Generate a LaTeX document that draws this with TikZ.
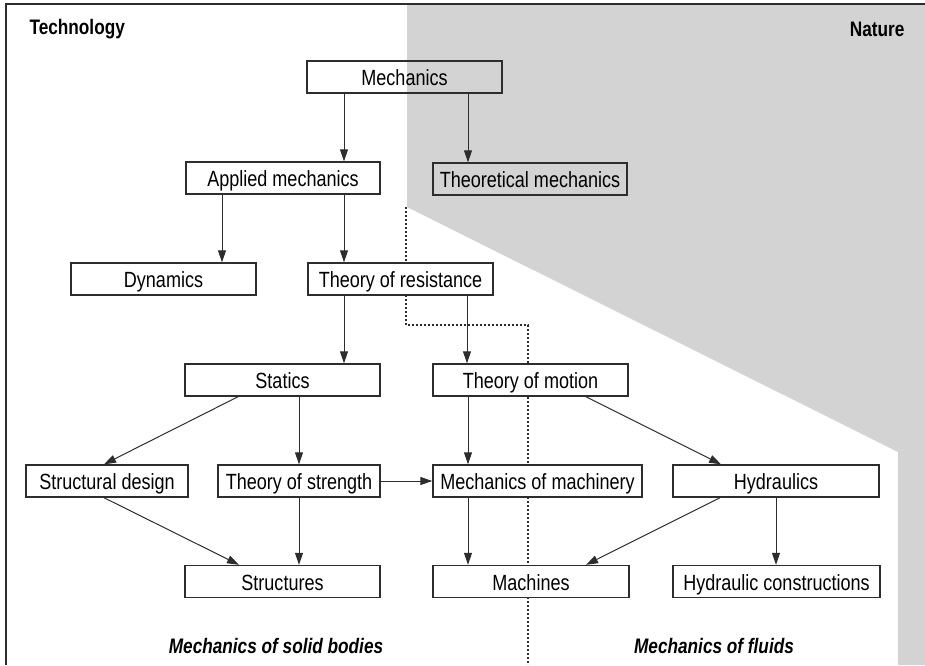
\documentclass[tikz,border=0pt]{standalone}
\usepackage{fontspec}
\setmainfont{Liberation Sans}[FakeStretch=0.82]
\usetikzlibrary{arrows.meta,calc}
\definecolor{natgrey}{RGB}{211,211,211}
\definecolor{lnk}{RGB}{45,45,45}
\tikzset{
  box/.style={draw=lnk, line width=1.4pt, fill=white, inner sep=0pt,
    minimum height=32pt, text height=17pt, text depth=0pt,
    font=\fontsize{22}{26}\selectfont},
  arr/.style={draw=lnk, line width=1pt, -{Triangle[length=12pt,width=8pt]}},
  side/.style={font=\fontsize{21}{25}\selectfont\bfseries},
  field/.style={font=\fontsize{21}{25}\selectfont\bfseries\itshape},
}

\begin{document}
\begin{tikzpicture}[x=1pt,y=-1pt]
\useasboundingbox (0,0) rectangle (925,665);
% nature side
\fill[natgrey] (407,5) -- (925,5) -- (925,665) -- (898,665) -- (898,452) -- (407,207) -- cycle;
% frame
\draw[lnk, line width=2pt] (6,665) -- (6,4) -- (925,4);
% solid bodies / fluids border
\draw[lnk, line width=2pt, dash pattern=on 2pt off 2pt]
  (406,207) -- (406,325) -- (528,325) -- (528,665);
% headings
\node[side, anchor=west] (tech) at (26,29) {Technology};
\node[side, anchor=east] (nat) at (908,29) {Nature};
% boxes
\node[box, minimum width=195pt, fill=none] (mech) at (404.5,77) {Mechanics};
\node[box, minimum width=194pt] (appl) at (283,178) {Applied mechanics};
\node[box, minimum width=194pt, fill=none] (theo) at (530,179) {Theoretical mechanics};
\node[box, minimum width=185pt] (dyn) at (163.5,279) {Dynamics};
\node[box, minimum width=185pt] (resist) at (400.5,279) {Theory of resistance};
\node[box, minimum width=195pt] (stat) at (282.5,380) {Statics};
\node[box, minimum width=195pt] (motion) at (530.5,380) {Theory of motion};
\node[box, minimum width=162pt] (sdesign) at (107,481) {Structural design};
\node[box, minimum width=162pt] (strength) at (299,481) {Theory of strength};
\node[box, minimum width=209pt] (mmach) at (537.5,481) {Mechanics of machinery};
\node[box, minimum width=206pt] (hydr) at (776,481) {Hydraulics};
\node[box, minimum width=195pt] (struct) at (282.5,581.5) {Structures};
\node[box, minimum width=196pt] (machines) at (531,581.5) {Machines};
\node[box, minimum width=207pt] (hcon) at (776.5,581.5) {Hydraulic constructions};
% arrows
\draw[arr] ([xshift=-60.5pt]mech.south) -- ([xshift=-60.5pt]mech.south |- appl.north);
\draw[arr] ([xshift=63.5pt]mech.south) -- ([xshift=63.5pt]mech.south |- theo.north);
\draw[arr] ([xshift=-61pt]appl.south) -- ([xshift=-61pt]appl.south |- dyn.north);
\draw[arr] ([xshift=61pt]appl.south) -- ([xshift=61pt]appl.south |- resist.north);
\draw[arr] ([xshift=-56.5pt]resist.south) -- ([xshift=-56.5pt]resist.south |- stat.north);
\draw[arr] ([xshift=66.5pt]resist.south) -- ([xshift=66.5pt]resist.south |- motion.north);
\draw[arr] ([xshift=-44.5pt]stat.south) -- ([xshift=-3pt]sdesign.north);
\draw[arr] (strength.north |- stat.south) -- (strength.north);
\draw[arr] (strength.east) -- (mmach.west);
\draw[arr] ([xshift=-3pt]sdesign.south) -- ([xshift=-43.5pt]struct.north);
\draw[arr] (strength.south) -- (strength.south |- struct.north);
\draw[arr] ([xshift=-62.5pt]motion.south) -- ([xshift=-62.5pt]motion.south |- mmach.north);
\draw[arr] ([xshift=55.5pt]motion.south) -- ([xshift=-55pt]hydr.north);
\draw[arr] ([xshift=-63pt]machines.north |- mmach.south) -- ([xshift=-63pt]machines.north);
\draw[arr] ([xshift=-56pt]hydr.south) -- ([xshift=55pt]machines.north);
\draw[arr] (hydr.south) -- (hydr.south |- hcon.north);
% fields
\node[field] (solid) at (276,646) {Mechanics of solid bodies};
\node[field] (fluid) at (714,646) {Mechanics of fluids};
\end{tikzpicture}
\end{document}
